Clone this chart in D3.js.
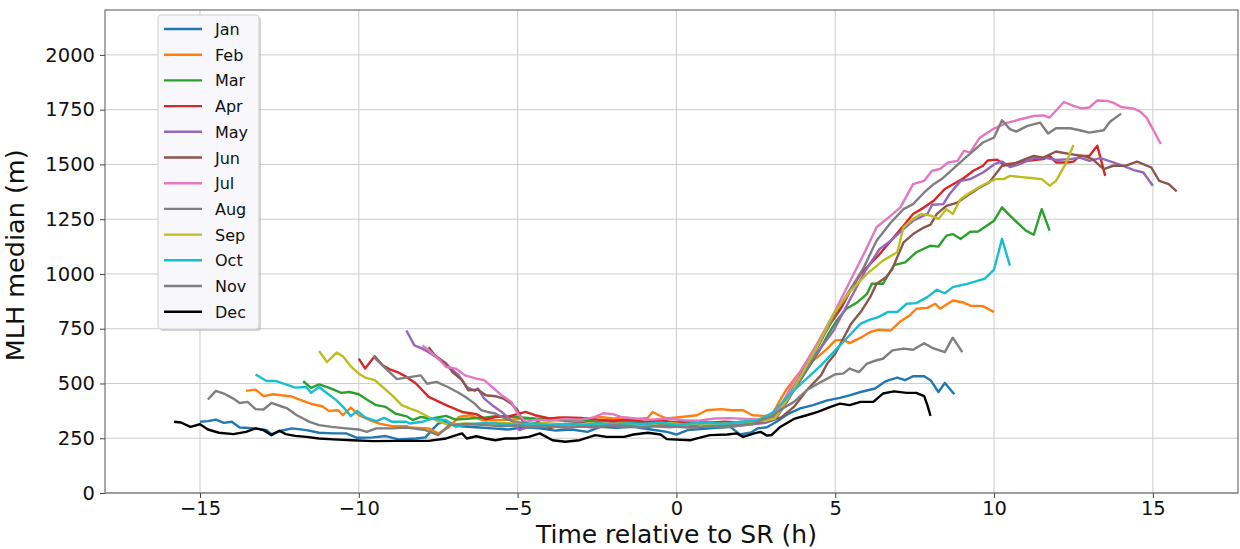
<!DOCTYPE html>
<html>
<head>
<meta charset="utf-8">
<script src="https://cdn.jsdelivr.net/npm/d3@7"></script>
<style>
  body { margin: 0; background: #fff; }
  text { font-family: "DejaVu Sans", sans-serif; }
</style>
</head>
<body>
<div id="chart"></div>
<script>
// monthly median MLH, [hours relative to sunrise, metres]
var jan = [[-15.0,325],[-14.75,328],[-14.5,335],[-14.25,320],[-14.0,325],[-13.75,299],[-13.25,295],[-12.9,287],[-12.75,269],[-12.45,284],[-12.1,295],[-11.65,287],[-11.25,275],[-10.8,272],[-10.4,272],[-10.05,252],[-9.55,254],[-9.15,260],[-8.75,245],[-8.2,249],[-7.9,254],[-7.7,287],[-7.5,317],[-7.25,325],[-6.8,305],[-6.3,300],[-5.8,295],[-5.3,290],[-4.8,300],[-4.3,295],[-3.8,285],[-3.3,290],[-2.8,279],[-2.4,302],[-1.9,298],[-1.35,302],[-0.8,290],[-0.3,279],[0.0,267],[0.35,287],[1.05,295],[1.7,302],[2.0,267],[2.35,276],[2.55,295],[2.85,300],[3.15,325],[3.5,360],[3.9,386],[4.3,401],[4.75,423],[5.15,434],[5.45,446],[5.8,461],[6.25,477],[6.6,511],[6.95,527],[7.2,515],[7.45,533],[7.8,533],[8.0,515],[8.25,461],[8.45,502],[8.75,451]];
var feb = [[-13.55,466],[-13.25,472],[-13.0,442],[-12.7,451],[-12.45,446],[-12.15,442],[-11.8,423],[-11.45,405],[-11.15,396],[-10.95,375],[-10.65,378],[-10.5,355],[-10.25,390],[-10.0,355],[-9.65,332],[-9.35,317],[-8.95,305],[-8.5,305],[-8.4,299],[-7.8,295],[-7.5,272],[-7.15,302],[-6.85,347],[-6.5,355],[-6.1,332],[-5.7,332],[-5.2,335],[-4.7,340],[-4.2,335],[-3.7,345],[-3.2,338],[-2.7,342],[-2.4,347],[-2.0,340],[-1.55,343],[-1.25,337],[-0.9,343],[-0.75,370],[-0.55,355],[-0.3,340],[0.15,347],[0.65,355],[0.95,378],[1.4,383],[1.75,378],[2.1,378],[2.4,355],[2.75,352],[3.0,355],[3.2,408],[3.45,470],[3.8,537],[4.1,583],[4.45,621],[4.75,659],[5.0,697],[5.25,700],[5.45,684],[5.8,709],[6.1,735],[6.35,745],[6.75,742],[7.05,783],[7.35,811],[7.55,841],[7.9,845],[8.15,864],[8.3,841],[8.7,879],[9.0,871],[9.25,855],[9.65,853],[10.0,826]];
var mar = [[-11.75,510],[-11.5,480],[-11.25,496],[-10.95,481],[-10.55,457],[-10.3,461],[-10.0,451],[-9.75,427],[-9.45,401],[-9.15,393],[-8.85,363],[-8.5,350],[-8.3,333],[-8.05,347],[-7.7,340],[-7.25,352],[-6.95,335],[-6.5,340],[-6.0,345],[-5.7,351],[-5.05,347],[-4.5,340],[-4.0,335],[-3.5,330],[-3.0,332],[-2.5,325],[-2.0,330],[-1.5,325],[-1.0,322],[-0.5,328],[0.0,320],[0.5,325],[1.0,320],[1.5,322],[2.0,318],[2.5,325],[2.85,335],[3.1,345],[3.4,410],[3.75,480],[4.1,560],[4.5,650],[4.8,730],[5.05,788],[5.35,841],[5.7,871],[6.0,909],[6.15,955],[6.5,955],[6.85,1040],[7.2,1053],[7.55,1099],[8.0,1129],[8.25,1125],[8.5,1175],[8.7,1182],[8.95,1160],[9.25,1193],[9.5,1194],[10.0,1243],[10.25,1304],[10.5,1266],[11.0,1198],[11.25,1179],[11.5,1296],[11.75,1198]];
var apr = [[-10.0,613],[-9.8,568],[-9.5,624],[-9.25,583],[-9.0,563],[-8.75,550],[-8.5,530],[-8.2,500],[-7.8,439],[-7.25,401],[-6.75,370],[-6.3,360],[-6.0,336],[-5.7,347],[-5.25,351],[-4.75,370],[-4.45,355],[-4.0,340],[-3.5,345],[-3.0,343],[-2.5,335],[-2.0,330],[-1.5,335],[-1.0,325],[-0.5,330],[0.0,322],[0.5,328],[1.0,320],[1.5,325],[2.0,322],[2.5,330],[2.9,340],[3.2,360],[3.6,460],[4.0,560],[4.4,666],[4.85,773],[5.2,848],[5.5,930],[5.8,1000],[6.1,1046],[6.4,1091],[6.75,1152],[7.15,1220],[7.45,1274],[7.8,1304],[8.1,1334],[8.45,1388],[8.75,1413],[9.05,1438],[9.35,1471],[9.65,1494],[9.8,1518],[10.1,1522],[10.3,1500],[10.6,1504],[10.9,1513],[11.25,1520],[11.55,1524],[11.75,1539],[11.95,1509],[12.3,1509],[12.5,1513],[12.7,1539],[13.0,1539],[13.25,1585],[13.5,1448]];
var may = [[-8.5,742],[-8.25,674],[-8.0,659],[-7.8,643],[-7.45,609],[-7.15,575],[-6.85,537],[-6.6,484],[-6.35,466],[-6.25,477],[-6.05,431],[-5.8,401],[-5.5,370],[-5.15,325],[-4.95,287],[-4.65,302],[-4.2,318],[-3.7,305],[-3.2,310],[-2.7,300],[-2.2,308],[-1.7,302],[-1.2,310],[-0.7,305],[-0.2,300],[0.3,308],[0.8,303],[1.3,310],[1.8,305],[2.3,312],[2.8,320],[3.1,335],[3.5,420],[3.9,520],[4.3,615],[4.95,742],[5.45,879],[5.95,1015],[6.4,1114],[6.75,1152],[7.15,1205],[7.45,1243],[7.9,1274],[8.05,1316],[8.4,1319],[8.6,1365],[8.95,1425],[9.25,1433],[9.65,1463],[10.0,1500],[10.25,1514],[10.5,1488],[10.8,1501],[11.25,1529],[11.65,1529],[11.95,1520],[12.4,1524],[12.7,1531],[13.0,1516],[13.35,1529],[13.75,1509],[14.05,1494],[14.4,1474],[14.7,1463],[15.0,1403]];
var jun = [[-7.8,666],[-7.6,628],[-7.25,591],[-7.05,552],[-6.75,515],[-6.55,469],[-6.25,472],[-6.0,446],[-5.7,442],[-5.45,431],[-5.2,408],[-5.0,378],[-4.85,332],[-4.65,310],[-4.35,325],[-4.0,295],[-3.5,315],[-3.0,320],[-2.5,312],[-2.0,318],[-1.5,312],[-1.0,320],[-0.5,315],[0.0,318],[0.5,312],[1.0,320],[1.5,315],[2.0,318],[2.5,322],[2.9,330],[3.3,345],[3.7,393],[4.1,469],[4.55,537],[4.75,591],[5.0,636],[5.25,704],[5.5,773],[5.8,826],[6.1,894],[6.3,955],[6.6,985],[6.8,1023],[6.95,1076],[7.15,1144],[7.45,1182],[7.8,1213],[8.0,1225],[8.2,1274],[8.5,1311],[8.85,1326],[9.15,1357],[9.55,1395],[9.85,1418],[10.25,1494],[10.6,1501],[10.9,1520],[11.25,1539],[11.55,1531],[11.95,1559],[12.4,1547],[12.8,1539],[13.1,1524],[13.45,1479],[13.75,1494],[14.15,1494],[14.5,1513],[14.95,1486],[15.2,1425],[15.5,1410],[15.75,1377]];
var jul = [[-8.0,674],[-7.8,651],[-7.45,606],[-7.25,575],[-6.95,568],[-6.65,537],[-6.3,522],[-6.05,515],[-5.8,484],[-5.5,446],[-5.2,416],[-5.0,363],[-4.75,325],[-4.4,335],[-4.0,330],[-3.5,338],[-3.0,335],[-2.6,345],[-2.3,364],[-2.0,360],[-1.75,347],[-1.3,340],[-0.8,335],[-0.3,340],[0.2,332],[0.7,330],[1.2,340],[1.7,342],[2.2,338],[2.7,335],[3.0,345],[3.3,400],[3.7,510],[4.05,590],[4.4,674],[4.95,818],[5.45,962],[5.95,1106],[6.3,1213],[6.75,1266],[7.05,1304],[7.45,1410],[7.8,1425],[8.05,1471],[8.3,1479],[8.55,1509],[8.85,1516],[9.05,1562],[9.25,1555],[9.55,1622],[9.95,1660],[10.4,1690],[10.8,1705],[11.25,1721],[11.55,1724],[11.75,1714],[12.2,1785],[12.5,1767],[12.75,1756],[13.0,1760],[13.25,1792],[13.55,1790],[13.75,1782],[14.0,1762],[14.4,1755],[14.6,1741],[14.8,1714],[15.0,1661],[15.25,1593]];
var aug = [[-9.55,624],[-9.15,568],[-8.8,520],[-8.5,527],[-8.05,537],[-7.85,499],[-7.55,507],[-7.2,484],[-6.9,461],[-6.65,439],[-6.35,408],[-6.15,378],[-5.95,370],[-5.7,363],[-5.4,340],[-5.1,325],[-4.6,315],[-4.1,305],[-3.6,312],[-3.1,318],[-2.6,310],[-2.1,315],[-1.6,320],[-1.1,312],[-0.6,318],[-0.1,310],[0.4,315],[0.9,322],[1.4,318],[1.9,315],[2.4,325],[2.9,335],[3.2,355],[3.6,450],[4.0,555],[4.4,651],[5.05,833],[5.45,924],[5.9,1030],[6.3,1152],[6.75,1235],[7.15,1296],[7.45,1319],[7.8,1372],[8.1,1410],[8.35,1433],[8.7,1479],[9.05,1524],[9.35,1562],[9.65,1600],[10.0,1623],[10.25,1702],[10.5,1661],[10.7,1650],[11.05,1676],[11.45,1691],[11.7,1641],[11.95,1665],[12.4,1665],[12.7,1656],[13.0,1645],[13.45,1656],[13.65,1695],[14.0,1732]];
var sep = [[-11.25,648],[-11.0,598],[-10.7,641],[-10.5,624],[-10.25,578],[-10.0,545],[-9.8,527],[-9.5,515],[-9.25,484],[-8.95,446],[-8.65,401],[-8.4,386],[-8.1,370],[-7.8,347],[-7.45,325],[-7.15,310],[-6.7,318],[-6.2,315],[-5.7,320],[-5.2,318],[-4.7,312],[-4.2,320],[-3.7,315],[-3.2,310],[-2.7,318],[-2.2,312],[-1.7,318],[-1.2,310],[-0.7,315],[-0.2,320],[0.3,312],[0.8,318],[1.3,315],[1.8,320],[2.3,325],[2.8,330],[3.1,340],[3.5,430],[3.9,530],[4.4,659],[4.95,818],[5.45,917],[6.0,1000],[6.5,1061],[6.95,1099],[7.15,1213],[7.45,1251],[7.7,1274],[8.0,1266],[8.25,1251],[8.5,1296],[8.7,1274],[8.95,1342],[9.25,1372],[9.55,1398],[9.75,1413],[10.05,1433],[10.3,1433],[10.5,1448],[10.8,1443],[11.15,1438],[11.5,1433],[11.75,1403],[11.95,1425],[12.25,1501],[12.5,1589]];
var oct = [[-13.25,541],[-12.9,511],[-12.6,511],[-12.3,496],[-12.0,481],[-11.65,484],[-11.5,457],[-11.25,484],[-11.05,461],[-10.7,423],[-10.45,386],[-10.25,351],[-10.05,375],[-9.8,345],[-9.45,328],[-9.2,343],[-8.95,325],[-8.5,325],[-8.4,317],[-8.0,325],[-7.7,340],[-7.25,332],[-6.95,302],[-6.55,314],[-6.0,320],[-5.5,315],[-5.0,312],[-4.5,318],[-4.0,310],[-3.5,315],[-3.0,308],[-2.5,318],[-2.0,312],[-1.5,318],[-1.0,315],[-0.5,322],[0.0,312],[0.5,318],[1.0,320],[1.5,315],[2.0,325],[2.5,330],[2.75,345],[3.05,370],[3.35,416],[3.7,469],[4.1,522],[4.55,583],[4.85,628],[5.15,674],[5.45,720],[5.8,773],[6.1,791],[6.35,803],[6.65,826],[6.95,826],[7.25,864],[7.55,867],[7.9,894],[8.2,928],[8.45,912],[8.7,940],[9.15,955],[9.45,967],[9.7,978],[10.0,1020],[10.25,1160],[10.5,1038]];
var nov = [[-14.75,427],[-14.5,466],[-14.25,454],[-13.95,431],[-13.75,411],[-13.5,416],[-13.25,383],[-13.0,381],[-12.75,411],[-12.45,396],[-12.25,386],[-11.95,355],[-11.55,325],[-11.25,310],[-10.85,302],[-10.4,295],[-10.0,290],[-9.75,279],[-9.45,295],[-8.95,295],[-8.5,299],[-8.3,295],[-7.9,287],[-7.5,264],[-7.15,310],[-6.6,315],[-6.0,310],[-5.5,305],[-5.0,308],[-4.5,300],[-4.0,305],[-3.5,298],[-3.0,303],[-2.5,300],[-2.0,310],[-1.5,305],[-1.0,300],[-0.5,308],[0.0,302],[0.5,298],[1.0,305],[1.5,300],[2.0,308],[2.4,315],[2.65,332],[2.95,347],[3.25,378],[3.7,416],[4.1,469],[4.45,499],[4.75,522],[5.0,542],[5.25,545],[5.45,568],[5.75,552],[6.0,591],[6.3,606],[6.5,613],[6.8,651],[7.15,659],[7.45,654],[7.8,684],[8.05,663],[8.45,643],[8.7,709],[9.0,643]];
var dec = [[-15.82,325],[-15.6,322],[-15.3,302],[-15.0,314],[-14.75,290],[-14.4,275],[-13.95,269],[-13.55,279],[-13.25,295],[-13.0,287],[-12.75,264],[-12.5,284],[-12.3,269],[-12.0,261],[-11.65,256],[-11.25,249],[-10.8,245],[-10.2,241],[-9.55,237],[-8.75,238],[-7.8,238],[-7.25,249],[-6.75,272],[-6.6,249],[-6.3,259],[-6.0,249],[-5.7,241],[-5.4,249],[-5.05,249],[-4.65,256],[-4.3,272],[-3.9,241],[-3.5,234],[-3.05,241],[-2.55,264],[-2.2,256],[-1.65,256],[-1.35,267],[-0.9,275],[-0.5,267],[-0.3,246],[0.45,241],[0.65,249],[1.05,264],[1.6,267],[1.9,272],[2.1,256],[2.45,272],[2.65,279],[2.85,262],[3.0,265],[3.25,300],[3.7,338],[4.1,355],[4.45,370],[4.85,393],[5.15,408],[5.45,401],[5.8,416],[6.2,416],[6.5,454],[6.85,464],[7.25,457],[7.55,457],[7.8,442],[7.9,401],[8.0,352]];

var months = ["Jan","Feb","Mar","Apr","May","Jun","Jul","Aug","Sep","Oct","Nov","Dec"];
var colors = ["#1f77b4","#ff7f0e","#2ca02c","#d62728","#9467bd","#8c564b","#e377c2","#7f7f7f","#bcbd22","#17becf","#7f7f7f","#000000"];
var series = [jan, feb, mar, apr, may, jun, jul, aug, sep, oct, nov, dec];
var xTicks = [-15, -10, -5, 0, 5, 10, 15];
var yTicks = [0, 250, 500, 750, 1000, 1250, 1500, 1750, 2000];

// set the dimensions and margins of the graph
var W = 1240, H = 549;
var margin = {top: 10, right: 2, bottom: 56, left: 105},
    width = W - margin.left - margin.right,
    height = H - margin.top - margin.bottom;

var svg = d3.select("#chart")
  .append("svg")
    .attr("width", W)
    .attr("height", H)
  .append("g")
    .attr("transform", "translate(" + margin.left + "," + margin.top + ")");

var x = d3.scaleLinear().domain([-17.99, 17.68]).range([0, width]);
var y = d3.scaleLinear().domain([0, 2205]).range([height, 0]);

// grid
svg.append("g").selectAll("line").data(xTicks).enter().append("line")
  .attr("x1", d => x(d)).attr("x2", d => x(d))
  .attr("y1", 0).attr("y2", height)
  .attr("stroke", "#cdcdcd").attr("stroke-width", 1);
svg.append("g").selectAll("line").data(yTicks).enter().append("line")
  .attr("x1", 0).attr("x2", width)
  .attr("y1", d => y(d)).attr("y2", d => y(d))
  .attr("stroke", "#cdcdcd").attr("stroke-width", 1);

// axes
var xAxis = svg.append("g")
  .attr("transform", "translate(0," + height + ")")
  .call(d3.axisBottom(x).tickValues(xTicks).tickSize(5).tickPadding(3)
        .tickFormat(d => d < 0 ? "\u2212" + Math.abs(d) : d));
var yAxis = svg.append("g")
  .call(d3.axisLeft(y).tickValues(yTicks).tickSize(5).tickPadding(5).tickFormat(d3.format("d")));
[xAxis, yAxis].forEach(function(a) {
  a.select(".domain").remove();
  a.selectAll("line").attr("stroke", "#444");
  a.selectAll("text").attr("fill", "#111").style("font-size", "19.5px")
    .style("font-family", "DejaVu Sans, sans-serif");
});

// lines
var line = d3.line().x(d => x(d[0])).y(d => y(d[1]));
svg.append("g").selectAll("path").data(series).enter().append("path")
  .attr("d", line)
  .attr("fill", "none")
  .attr("stroke", (d, i) => colors[i])
  .attr("stroke-width", 2.4)
  .attr("stroke-linejoin", "round");

// frame
svg.append("rect")
  .attr("width", width).attr("height", height)
  .attr("fill", "none").attr("stroke", "#555").attr("stroke-width", 1);

// axis labels
svg.append("text")
  .attr("x", x(0)).attr("y", height + 50)
  .attr("text-anchor", "middle")
  .style("font-size", "25px").attr("fill", "#111")
  .text("Time relative to SR (h)");
svg.append("text")
  .attr("transform", "translate(" + (-81) + "," + (y(1085)) + ")rotate(-90)")
  .attr("text-anchor", "middle")
  .style("font-size", "25.5px").attr("fill", "#111")
  .text("MLH median (m)");

// legend
var lg = svg.append("g").attr("transform", "translate(" + (158 - margin.left) + "," + (15 - margin.top) + ")");
lg.append("rect").attr("x", 2).attr("y", 2).attr("width", 101).attr("height", 314)
  .attr("rx", 3).attr("fill", "#888").attr("opacity", 0.35);
lg.append("rect").attr("width", 101).attr("height", 314).attr("rx", 3)
  .attr("fill", "#f8f8fc").attr("stroke", "#cfcfcf").attr("stroke-width", 1);
var item = lg.selectAll(".item").data(months).enter().append("g")
  .attr("transform", (d, i) => "translate(0," + (14 + i * 25.7) + ")");
item.append("line").attr("x1", 6).attr("x2", 44).attr("y1", 0).attr("y2", 0)
  .attr("stroke", (d, i) => colors[i]).attr("stroke-width", 2.4);
item.append("text").attr("x", 57).attr("y", 6)
  .style("font-size", "16px").attr("fill", "#111")
  .text(d => d);
</script>
</body>
</html>
